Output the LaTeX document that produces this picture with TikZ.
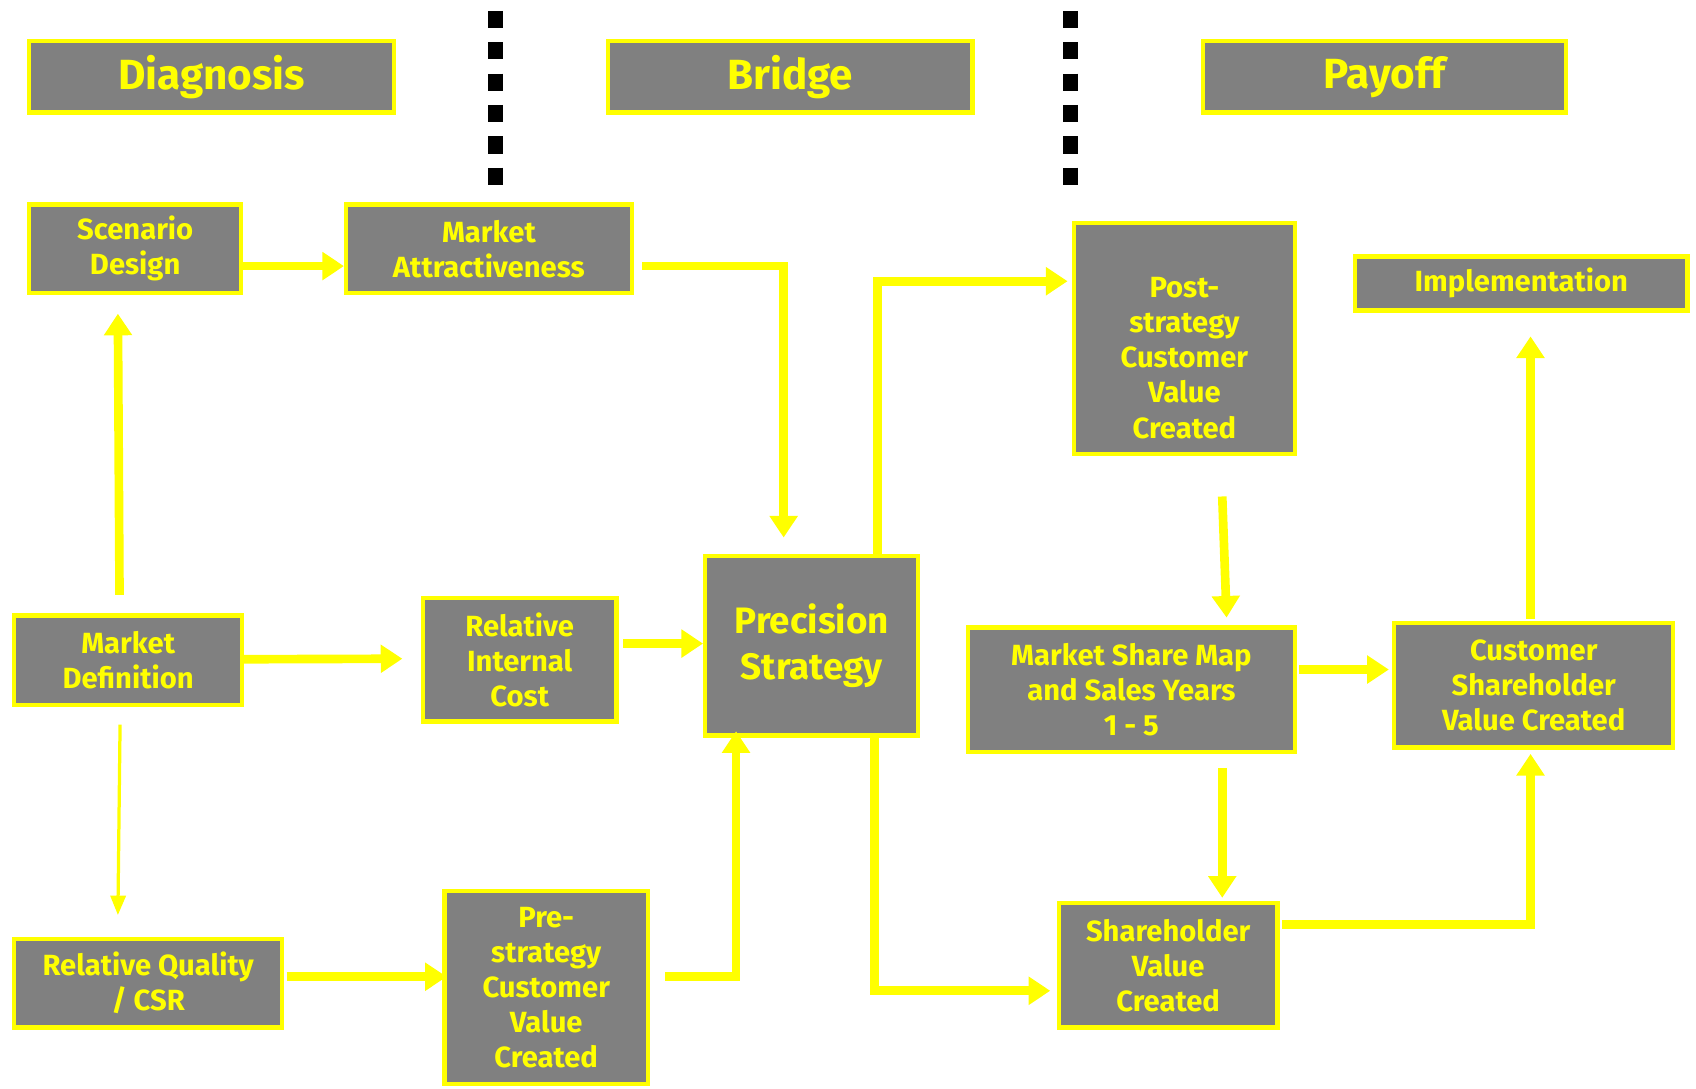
\documentclass[tikz,border=0pt]{standalone}
\usepackage{fontspec}
\setmainfont{Fira Sans}
\usetikzlibrary{arrows.meta,calc}

\definecolor{boxgray}{HTML}{808080}
\definecolor{hiyellow}{HTML}{FFFF00}

\tikzset{
  box/.style 2 args={draw=hiyellow, fill=boxgray, line width=2pt,
    text=hiyellow, align=center, inner sep=0pt,
    font=\fontsize{13.5}{16.25}\selectfont\bfseries,
    minimum width=#1*0.5pt-2pt, minimum height=#2*0.5pt-2pt},
  headbox/.style={font=\fontsize{19.5}{22}\selectfont\bfseries},
  bigbox/.style={font=\fontsize{17}{21}\selectfont\bfseries},
  flow/.style={draw=hiyellow, line width=4pt, line join=miter,
    -{Triangle[length=10pt,width=12.5pt]}},
  thinflow/.style={draw=hiyellow, line width=1.5pt,
    -{Triangle[length=9pt,width=7pt]}},
  divider/.style={draw=black, line width=7pt, line cap=butt,
    dash pattern=on 8pt off 6.5pt},
}

\begin{document}
\begin{tikzpicture}[x=0.5pt, y=-0.5pt]
\useasboundingbox (0,0) rectangle (1568,1006);

% phase headers
\node[box={341}{70}, headbox] (diag)   at (195.5,71) {Diagnosis};
\node[box={341}{70}, headbox] (bridge) at (730.5,71) {Bridge};
\node[box={340}{70}, headbox] (payoff) at (1280,71)  {Payoff};

% phase separators
\coordinate (sepAtop) at (458,10);  \coordinate (sepAbot) at (458,172);
\coordinate (sepBtop) at (990,10);  \coordinate (sepBbot) at (990,172);
\draw[divider] (sepAtop) -- (sepAbot);
\draw[divider] (sepBtop) -- (sepBbot);

% diagnosis blocks
\node[box={200}{86}] (sd)  at (125,230)   {Scenario\\Design};
\node[box={268}{86}] (ma)  at (452,230)   {Market\\Attractiveness};
\node[box={215}{87}] (md)  at (118.5,610.5) {Market\\Definition};
\node[box={183}{118}] (ric) at (480.5,610) {Relative\\Internal\\Cost};
\node[box={252}{86}] (rq)  at (137,909)   {Relative Quality\\/ CSR};
\node[box={192}{182}] (pre) at (505,913)  {Pre-\\strategy\\Customer\\Value\\Created};

% bridge
\node[box={201}{170}, bigbox] (ps) at (750.5,597) {Precision\\Strategy};

% payoff blocks
\node[box={208}{218}] (post) at (1095,313)   {\mbox{}\\[11pt]Post-\\strategy\\Customer\\Value\\Created};
\node[box={311}{54}]  (impl) at (1406.5,262) {Implementation};
\node[box={306}{119}] (msm)  at (1046,637.5) {Market Share Map\\and Sales Years\\1 - 5};
\node[box={262}{119}] (csv)  at (1418,633.5) {Customer\\Shareholder\\Value Created};
\node[box={206}{119}] (svc)  at (1080,892.5) {Shareholder\\Value\\Created};

% flows
\draw[flow] ($(sd.east)+(-1,16)$) -- ($(ma.west)+(0,16)$);
\draw[flow] ($(ma.east)+(8,16)$) -| ($(ps.north)+(-26,-15)$);
\draw[flow] ($(md.north)+(-8,-17)$) -- ($(sd.south)+(-16,17)$);
\draw[flow] ($(md.east)+(-2,-1)$) -- ($(ric.west)+(-17,-1)$);
\draw[thinflow] ($(md.south)+(-7.5,16)$) -- ($(rq.north)+(-28,-20)$);
\draw[flow] ($(ric.east)+(4,-15)$) -- ($(ps.west)+(0,-2)$);
\draw[flow] ($(rq.east)+(2,-6)$) -- ($(pre.west)+(4,-10)$);
\draw[flow] ($(pre.east)+(14,-10)$) -| ($(ps.south)+(-70,-6)$);
\draw[flow] ($(ps.north)+(61,1)$) |- ($(post.west)+(-4,-53)$);
\draw[flow] ($(ps.south)+(58,-1)$) |- ($(svc.west)+(-6,23.5)$);
\draw[flow] ($(post.south)+(35,37)$) -- ($(msm.north)+(88,-7)$);
\draw[flow] ($(msm.east)+(2,-18.5)$) -- ($(csv.west)+(-3,-14.5)$);
\draw[flow] ($(msm.south)+(84,13)$) -- ($(svc.north)+(50,-3)$);
\draw[flow] ($(svc.east)+(2,-37.5)$) -| ($(csv.south)+(-3,4)$);
\draw[flow] ($(csv.north)+(-3,-2)$) -- ($(impl.south)+(8.5,22)$);
\end{tikzpicture}
\end{document}
